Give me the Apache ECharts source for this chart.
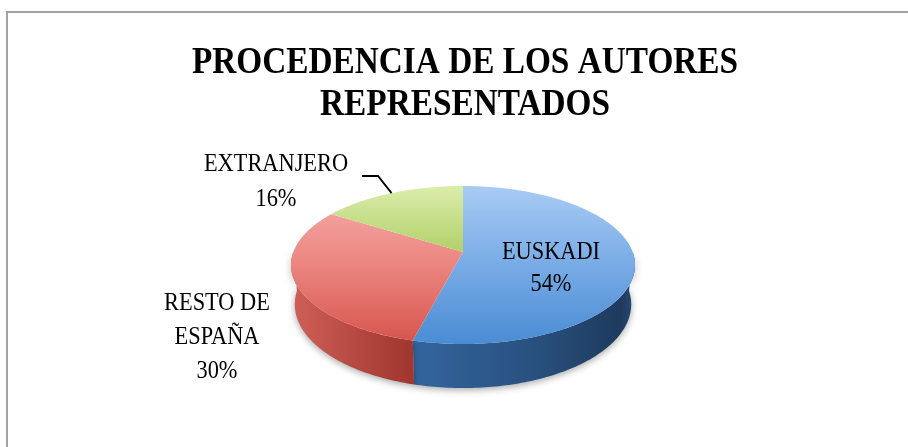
<!DOCTYPE html>
<html>
<head>
<meta charset="utf-8">
<script src="https://cdn.jsdelivr.net/npm/echarts@6/dist/echarts.min.js"></script>
<style>
  html, body { margin: 0; padding: 0; background: #ffffff; }
  #chart { width: 908px; height: 447px; }
</style>
</head>
<body>
<div id="chart"></div>
<script>
// Share of represented authors by origin (percent)
const categories = ['EUSKADI', 'RESTO DE ESPAÑA', 'EXTRANJERO'];
const shares = [54, 30, 16];
const labelNames = ['EUSKADI', 'RESTO DE\nESPAÑA', 'EXTRANJERO'];

const titleText = 'PROCEDENCIA DE LOS AUTORES\nREPRESENTADOS';

// cumulative start of every slice
const total = shares.reduce((a, b) => a + b, 0);
const starts = [];
shares.reduce((acc, v) => { starts.push(acc); return acc + v; }, 0);

// camera for the tilted disc (unit radius, seen in perspective)
const VIEW = {
  cx: 463, cy: 252,      // screen position of the disc centre
  focal: 919,            // focal length in px
  dist: 5.416,           // camera distance in disc radii
  tilt: 0.4702,          // elevation of the view, radians
  thick: 0.263           // disc thickness in radii
};

// project a rim point; t is measured clockwise from 12 o'clock, drop is the depth below the top face
function project(t, drop) {
  const X = Math.sin(t), Z = Math.cos(t), Y = -drop;
  const s = Math.sin(VIEW.tilt), c = Math.cos(VIEW.tilt);
  const yc = Y * c + Z * s;
  const zc = VIEW.dist + Z * c - Y * s;
  return [VIEW.cx + VIEW.focal * X / zc, VIEW.cy - VIEW.focal * yc / zc];
}
function arc(t0, t1, drop) {
  const pts = [];
  const n = Math.max(2, Math.ceil(Math.abs(t1 - t0) / (Math.PI / 180)));
  for (let k = 0; k <= n; k++) pts.push(project(t0 + (t1 - t0) * k / n, drop));
  return pts;
}

// extent of the top face on screen, used to lay out the gradients
const TOP_Y0 = project(0, 0)[1], TOP_Y1 = project(Math.PI, 0)[1];
const LEFT_X = VIEW.cx - 172, RIGHT_X = VIEW.cx + 172;

// colours of the top faces (vertical) and the rim walls (horizontal)
const topStops = [
  [[0, '#a9cbf4'], [0.5, '#78abe6'], [1, '#4a8cd4']],
  [[0, '#f8aeab'], [0.5, '#eb8580'], [1, '#d6544c']],
  [[0, '#dbedaa'], [0.5, '#a8cb5e'], [1, '#86b044']]
];
const sideStops = [
  [[0, '#3366a0'], [0.34, '#3366a0'], [0.7, '#29517f'], [0.96, '#1e3a5e'], [1, '#2b4d75']],
  [[0, '#cf6058'], [0.34, '#a1372f'], [1, '#a1372f']],
  [[0, '#7ea53c'], [1, '#6a8f30']]
];

// where each label sits; the outside one gets a leader to its slice
const labelLayout = [
  { x: 551, y: 268, lineHeight: 32 },
  { x: 217, y: 337, lineHeight: 34 },
  { x: 276, y: 182, lineHeight: 35, leader: [[362, 176], [378, 176]] }
];

function gradient(stops, horizontal) {
  return {
    type: 'linear', global: true,
    x: horizontal ? LEFT_X : 0, y: horizontal ? 0 : TOP_Y0,
    x2: horizontal ? RIGHT_X : 0, y2: horizontal ? 0 : TOP_Y1,
    colorStops: stops.map(s => ({ offset: s[0], color: s[1] }))
  };
}

function renderItem(params, api) {
  const i = params.dataIndex;
  const v = api.value(0);
  const s = api.value(1);
  const t0 = s / total * 2 * Math.PI;
  const t1 = (s + v) / total * 2 * Math.PI;
  const children = [];

  // wall: the front half of the rim
  const lo = Math.max(t0, Math.PI / 2), hi = Math.min(t1, 3 * Math.PI / 2);
  if (lo < hi) {
    const pts = arc(lo, hi, 0).concat(arc(hi, lo, VIEW.thick));
    children.push({
      type: 'polygon', z2: 1,
      shape: { points: pts },
      style: {
        fill: gradient(sideStops[i], true),
        shadowBlur: 7, shadowColor: 'rgba(0,0,0,0.35)', shadowOffsetY: 2
      }
    });
  }

  // top face
  children.push({
    type: 'polygon', z2: 2,
    shape: { points: [project(0, 0).map((p, k) => k === 0 ? VIEW.cx : VIEW.cy)].concat(arc(t0, t1, 0)) },
    style: { fill: gradient(topStops[i], false) }
  });

  // label
  const lay = labelLayout[i];
  const pct = Math.round(v / total * 100) + '%';
  children.push({
    type: 'text', z2: 5,
    x: lay.x, y: lay.y, scaleX: 0.86,
    style: {
      text: labelNames[i] + '\n' + pct,
      fill: '#000000',
      fontFamily: 'Liberation Serif',
      fontSize: 26,
      lineHeight: lay.lineHeight,
      align: 'center', verticalAlign: 'middle'
    }
  });
  if (lay.leader) {
    const mid = (t0 + t1) / 2;
    children.push({
      type: 'polyline', z2: 5,
      shape: { points: lay.leader.concat([project(mid, 0)]) },
      style: { stroke: '#000000', lineWidth: 1.8, fill: null }
    });
  }
  return { type: 'group', children: children };
}

const chart = echarts.init(document.getElementById('chart'), null, { renderer: 'canvas' });
chart.setOption({
  animation: false,
  backgroundColor: '#ffffff',
  graphic: [
    {
      type: 'text', x: 465, y: 84, z: 10, scaleX: 0.9,
      style: {
        text: titleText, fill: '#000000',
        fontFamily: 'Liberation Serif', fontWeight: 'bold', fontSize: 37,
        lineHeight: 42, align: 'center', verticalAlign: 'middle'
      }
    },
    { type: 'line', shape: { x1: 7, y1: 11, x2: 7, y2: 447 }, style: { stroke: '#a3a3a3', lineWidth: 2 } },
    { type: 'line', shape: { x1: 6, y1: 12, x2: 908, y2: 12 }, style: { stroke: '#a3a3a3', lineWidth: 2 } }
  ],
  series: [{
    type: 'custom',
    coordinateSystem: 'none',
    renderItem: renderItem,
    data: shares.map((v, i) => ({ name: categories[i], value: [v, starts[i]] }))
  }]
});
</script>
</body>
</html>
